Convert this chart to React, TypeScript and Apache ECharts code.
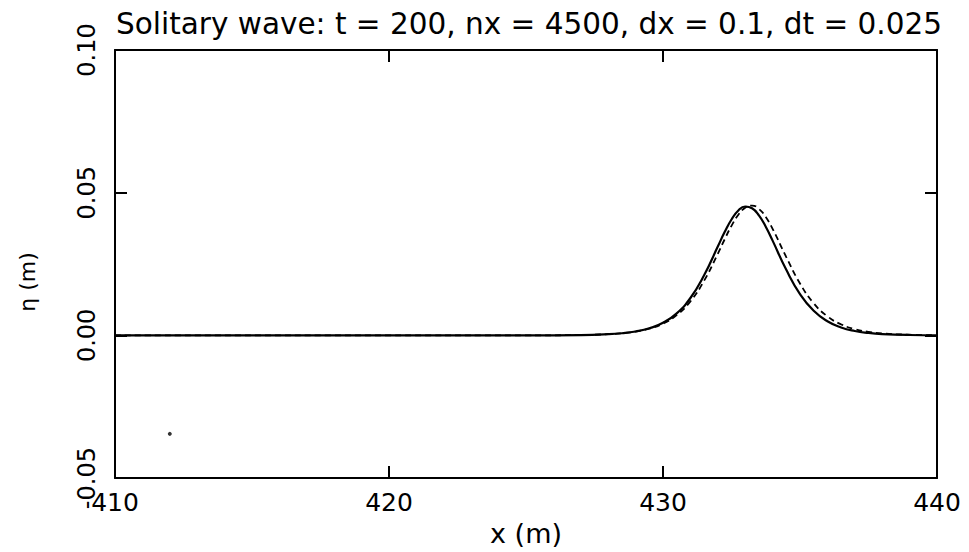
import React, { useEffect, useRef } from "react";
import * as echarts from "echarts";

// Surface elevation samples along the channel (x in m, eta in m)
const xComputed = [410, 420, 425, 427, 428, 428.5, 429, 429.5, 430, 430.5, 431, 431.5, 432, 432.25, 432.5, 432.75, 433, 433.25, 433.5, 433.75, 434, 434.5, 435, 435.5, 436, 436.5, 437, 437.5, 438, 439, 440];
const etaComputed = [0, 0, 0.00001, 0.00013, 0.00042, 0.00076, 0.00138, 0.00249, 0.00442, 0.00774, 0.01311, 0.02107, 0.03112, 0.0362, 0.04062, 0.04377, 0.04516, 0.04455, 0.04206, 0.03807, 0.0332, 0.02296, 0.01449, 0.00862, 0.00496, 0.00279, 0.00155, 0.00086, 0.00047, 0.00014, 0.00004];

const xExact = [410, 420, 425, 427, 428, 428.5, 429, 429.5, 430, 430.5, 431, 431.5, 432, 432.25, 432.5, 432.75, 433, 433.25, 433.5, 433.75, 434, 434.5, 435, 435.5, 436, 436.5, 437, 437.5, 438, 439, 440];
const etaExact = [0, 0, 0.00001, 0.00013, 0.00042, 0.00075, 0.00134, 0.00236, 0.00412, 0.00711, 0.01192, 0.01916, 0.0286, 0.03365, 0.03839, 0.04227, 0.04476, 0.0455, 0.04432, 0.04147, 0.03734, 0.02743, 0.01819, 0.01127, 0.0067, 0.00388, 0.00222, 0.00126, 0.00071, 0.00022, 0.00007];

// stray plotted point near the lower left
const spotX = [412.0];
const spotY = [-0.0345];

const xTicks = [410, 420, 430, 440];
const yTicks = [-0.05, 0, 0.05, 0.1];
const yTickLabels = ["-0.05", "0.00", "0.05", "0.10"];

const titleText = "Solitary wave: t = 200, nx = 4500, dx = 0.1, dt = 0.025";
const FONT = "'DejaVu Sans', 'Liberation Sans', sans-serif";

export default function App() {
  const ref = useRef<HTMLDivElement>(null);

  useEffect(() => {
    document.body.style.margin = "0";
    if (!ref.current) return;
    const chart = echarts.init(ref.current, undefined, { renderer: "svg" });

    const frameLine = { show: true, onZero: false, lineStyle: { color: "#000", width: 2 } };
    const tick = { show: true, inside: true, length: 12, lineStyle: { color: "#000", width: 2 } };

    chart.setOption({
      animation: false,
      backgroundColor: "#fff",
      title: {
        text: titleText,
        left: 111,
        top: 4,
        textStyle: { fontFamily: FONT, fontSize: 29.5, fontWeight: "normal", color: "#000" },
      },
      grid: { left: 115, right: 32, top: 50, bottom: 63, containLabel: false },
      xAxis: [
        {
          type: "value",
          min: xTicks[0],
          max: xTicks[xTicks.length - 1],
          interval: 10,
          position: "bottom",
          axisLine: frameLine,
          axisTick: tick,
          splitLine: { show: false },
          axisLabel: { color: "#000", fontFamily: FONT, fontSize: 25, margin: 12 },
          name: "x (m)",
          nameLocation: "middle",
          nameGap: 38,
          nameTextStyle: { color: "#000", fontFamily: FONT, fontSize: 27 },
        },
        {
          type: "value",
          min: xTicks[0],
          max: xTicks[xTicks.length - 1],
          interval: 10,
          position: "top",
          axisLine: frameLine,
          axisTick: tick,
          splitLine: { show: false },
          axisLabel: { show: false },
        },
      ],
      yAxis: [
        {
          type: "value",
          min: -0.05,
          max: 0.1,
          interval: 0.05,
          position: "left",
          axisLine: frameLine,
          axisTick: tick,
          splitLine: { show: false },
          axisLabel: {
            color: "#000",
            fontFamily: FONT,
            fontSize: 24,
            rotate: 90,
            margin: 16,
            formatter: (v: number) => {
              const i = yTicks.findIndex((t) => Math.abs(t - v) < 1e-9);
              return i >= 0 ? yTickLabels[i] : "";
            },
          },
        },
        {
          type: "value",
          min: -0.05,
          max: 0.1,
          interval: 0.05,
          position: "right",
          axisLine: frameLine,
          axisTick: tick,
          splitLine: { show: false },
          axisLabel: { show: false },
        },
      ],
      graphic: [
        {
          type: "text",
          x: 27,
          y: 282,
          rotation: Math.PI / 2,
          style: {
            text: "η (m)",
            fill: "#000",
            font: `22px ${FONT}`,
            align: "center",
            verticalAlign: "middle",
          },
        },
      ],
      series: [
        {
          type: "line",
          xAxisIndex: 0,
          yAxisIndex: 0,
          data: xComputed.map((x, i) => [x, etaComputed[i]]),
          showSymbol: false,
          smooth: 0.5,
          lineStyle: { color: "#000", width: 2.2, type: "solid" },
        },
        {
          type: "line",
          xAxisIndex: 0,
          yAxisIndex: 0,
          data: xExact.map((x, i) => [x, etaExact[i]]),
          showSymbol: false,
          smooth: 0.5,
          lineStyle: { color: "#000", width: 1.8, type: [6, 4] },
        },
        {
          type: "scatter",
          xAxisIndex: 0,
          yAxisIndex: 0,
          data: spotX.map((x, i) => [x, spotY[i]]),
          symbolSize: 4,
          itemStyle: { color: "#000" },
        },
      ],
    });

    return () => chart.dispose();
  }, []);

  return <div ref={ref} style={{ width: 969, height: 552 }} />;
}
